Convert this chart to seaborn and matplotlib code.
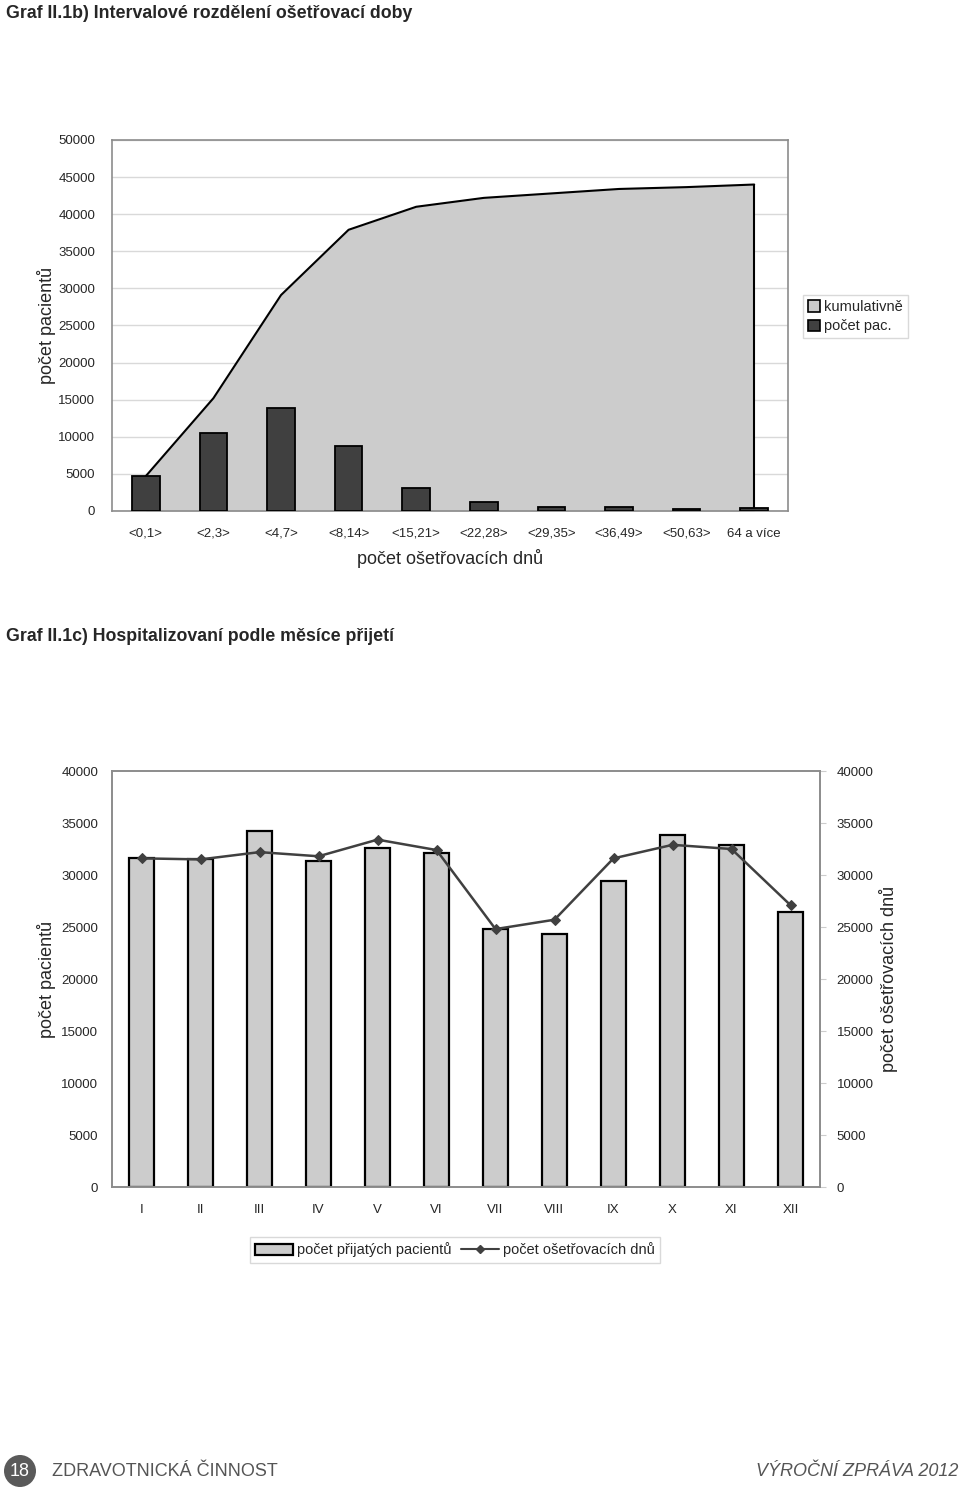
import numpy as np
import pandas as pd
import matplotlib
matplotlib.use("Agg")
import matplotlib.pyplot as plt
import seaborn as sns
from matplotlib.patches import Patch, Circle
from matplotlib.lines import Line2D

# ---------------- data ----------------
intervals = ["<0,1>", "<2,3>", "<4,7>", "<8,14>", "<15,21>", "<22,28>",
             "<29,35>", "<36,49>", "<50,63>", "64 a více"]
patients_interval = [4700, 10500, 13900, 8800, 3100, 1200, 600, 600, 250, 400]
cumulative = [4700, 15200, 29100, 37900, 41000, 42200, 42800, 43400, 43650, 44000]

months = ["I", "II", "III", "IV", "V", "VI", "VII", "VIII", "IX", "X", "XI", "XII"]
admitted = [31600, 31550, 34200, 31350, 32600, 32100, 24800, 24300, 29400, 33800, 32900, 26400]
care_days = [31600, 31500, 32200, 31800, 33400, 32400, 24800, 25700, 31600, 32900, 32500, 27100]

top_yticks = list(range(0, 50001, 5000))
bot_yticks = list(range(0, 40001, 5000))

# ---------------- style ----------------
sns.set_style("white")
plt.rcParams["font.family"] = ["Liberation Sans", "DejaVu Sans"]

W, H = 960, 1490
fig = plt.figure(figsize=(W / 100, H / 100), dpi=100)

def fx(px):
    return px / W

def fy(py):
    return 1 - py / H

FRAME = "#8c8c8c"
TICKFS = 9.5
LABFS = 13

# ---------------- titles ----------------
fig.text(fx(6), fy(5), "Graf II.1b) Intervalové rozdělení ošetřovací doby",
         fontsize=12.8, fontweight="bold", va="top", ha="left")
fig.text(fx(6), fy(628), "Graf II.1c) Hospitalizovaní podle měsíce přijetí",
         fontsize=12.8, fontweight="bold", va="top", ha="left")

# ---------------- top chart ----------------
ax1 = fig.add_axes([fx(112), fy(511), fx(788) - fx(112), fy(140) - fy(511)])
df1 = pd.DataFrame({"interval": intervals, "pocet": patients_interval})
xs = np.arange(len(intervals))
ax1.fill_between(xs, cumulative, 0, color="#cccccc", zorder=1, linewidth=0)
ax1.plot(xs, cumulative, color="black", lw=1.5, zorder=2)
ax1.plot([xs[-1], xs[-1]], [cumulative[-1], 0], color="black", lw=1.5, zorder=2)
sns.barplot(data=df1, x="interval", y="pocet", ax=ax1, color="#404040",
            saturation=1, width=0.41, edgecolor="black", linewidth=1.3, zorder=3)
ax1.set_xlim(-0.5, len(intervals) - 0.5)
ax1.set_ylim(0, 50000)
ax1.set_yticks(top_yticks)
ax1.set_yticklabels([str(v) for v in top_yticks], fontsize=TICKFS)
ax1.yaxis.grid(True, color="#d9d9d9", lw=1)
ax1.set_axisbelow(True)
ax1.set_xticks(xs)
ax1.set_xticklabels(intervals, fontsize=TICKFS)
ax1.set_xticks(np.arange(-0.5, len(intervals), 1.0), minor=True)
ax1.tick_params(axis="x", which="major", length=0, pad=12)
ax1.tick_params(axis="x", which="minor", length=4, color=FRAME, direction="out")
ax1.tick_params(axis="y", length=4, color=FRAME, pad=8)
for s in ax1.spines.values():
    s.set_color(FRAME)
    s.set_linewidth(1.2)
ax1.set_xlabel("počet ošetřovacích dnů", fontsize=LABFS, labelpad=7)
ax1.set_ylabel("počet pacientů", fontsize=LABFS, labelpad=2)

leg1 = fig.legend(handles=[Patch(facecolor="#cccccc", edgecolor="black", lw=1.2, label="kumulativně"),
                           Patch(facecolor="#404040", edgecolor="black", lw=1.2, label="počet pac.")],
                  loc="upper left", bbox_to_anchor=(fx(803), fy(295)), fontsize=10.5,
                  frameon=True, fancybox=False, edgecolor="#d0d0d0", handlelength=0.8,
                  handleheight=0.8, handletextpad=0.3, borderpad=0.35, labelspacing=0.35,
                  borderaxespad=0)
leg1.get_frame().set_linewidth(1)

# ---------------- bottom chart ----------------
ax2 = fig.add_axes([fx(112), fy(1187), fx(820) - fx(112), fy(771) - fy(1187)])
df2 = pd.DataFrame({"mesic": months, "prijati": admitted})
sns.barplot(data=df2, x="mesic", y="prijati", ax=ax2, color="#cccccc",
            saturation=1, width=0.41, edgecolor="black", linewidth=1.6, zorder=2)
ax2.set_xlim(-0.5, len(months) - 0.5)
ax2.set_ylim(0, 40000)
ax2.set_yticks(bot_yticks)
ax2.set_yticklabels([str(v) for v in bot_yticks], fontsize=TICKFS)
ax2.set_xticks(np.arange(len(months)))
ax2.set_xticklabels(months, fontsize=TICKFS)
ax2.set_xticks(np.arange(-0.5, len(months), 1.0), minor=True)
ax2.tick_params(axis="x", which="major", length=0, pad=12)
ax2.tick_params(axis="x", which="minor", length=4, color="#cccccc", direction="out")
ax2.tick_params(axis="y", length=0, pad=10)
ax2.set_xlabel("")
ax2.set_ylabel("počet pacientů", fontsize=LABFS, labelpad=4)
for s in ax2.spines.values():
    s.set_color(FRAME)
    s.set_linewidth(1.2)

ax3 = ax2.twinx()
df3 = pd.DataFrame({"pos": np.arange(len(months)), "dny": care_days})
sns.lineplot(data=df3, x="pos", y="dny", ax=ax3, color="#404040", lw=1.8,
             marker="D", markersize=5, markeredgecolor="#404040", zorder=3)
ax3.set_ylim(0, 40000)
ax3.set_yticks(bot_yticks)
ax3.set_yticklabels([str(v) for v in bot_yticks], fontsize=TICKFS)
ax3.tick_params(axis="y", length=4, color="#cccccc", pad=8)
ax3.set_xlabel("")
ax3.set_ylabel("počet ošetřovacích dnů", fontsize=LABFS, labelpad=4)
for s in ax3.spines.values():
    s.set_color(FRAME)
    s.set_linewidth(1.2)
ax2.set_xlim(-0.5, len(months) - 0.5)

leg2 = fig.legend(handles=[Patch(facecolor="#cccccc", edgecolor="black", lw=1.6, label="počet přijatých pacientů"),
                           Line2D([0], [0], color="#404040", lw=1.5, marker="D", markersize=4,
                                  label="počet ošetřovacích dnů")],
                  loc="center", bbox_to_anchor=(fx(455), fy(1250)), ncol=2, fontsize=10.5,
                  frameon=True, fancybox=False, edgecolor="#d0d0d0", handlelength=2.6,
                  handleheight=0.8, handletextpad=0.3, columnspacing=0.6, borderpad=0.35,
                  borderaxespad=0)
leg2.get_frame().set_linewidth(1)

# ---------------- footer ----------------
fig.patches.append(Circle((0.20, (H - 1471) / 100), radius=0.16,
                          transform=fig.dpi_scale_trans,
                          facecolor="#5a5a5a", edgecolor="none"))
fig.text(fx(20), fy(1472), "18", color="white", fontsize=13, ha="center", va="center")
fig.text(fx(52), fy(1472), "ZDRAVOTNICKÁ ČINNOST", color="#555555", fontsize=13,
         ha="left", va="center")
fig.text(fx(958), fy(1472), "VÝROČNÍ ZPRÁVA 2012", color="#555555", fontsize=13,
         ha="right", va="center", style="italic")

fig.savefig("out.png", dpi=100)
